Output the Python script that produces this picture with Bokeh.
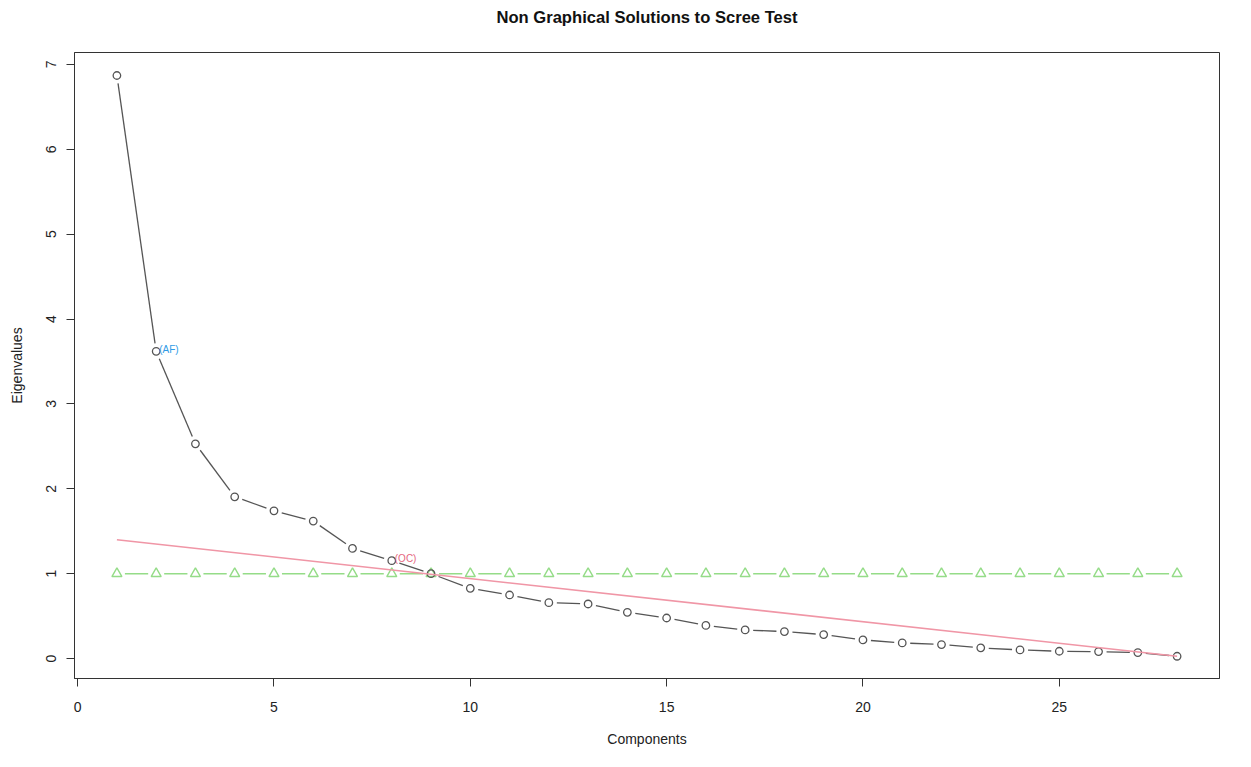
import math
from bokeh.plotting import figure
from bokeh.models import Range1d, FixedTicker, ColumnDataSource, Title
from bokeh.core.properties import value
from bokeh.embed import file_html
from bokeh.resources import INLINE

# ---- data ----
components = list(range(1, 29))
eigenvalues = [6.87, 3.62, 2.53, 1.906, 1.741, 1.62, 1.298, 1.153, 1.0, 0.827,
               0.749, 0.659, 0.643, 0.545, 0.478, 0.39, 0.337, 0.318, 0.282, 0.22,
               0.184, 0.165, 0.126, 0.102, 0.086, 0.082, 0.071, 0.027]
kaiser = [1.0] * 28
oc_line_x = [1, 28]
oc_line_y = [1.40, 0.027]
label_x = [2, 8]
label_y = [3.62, 1.153]
label_text = ["(AF)", "(OC)"]
label_color = ["#2f9be6", "#e5677e"]
x_ticks = [0, 5, 10, 15, 20, 25]
y_ticks = [0, 1, 2, 3, 4, 5, 6, 7]
title_text = "Non Graphical Solutions to Scree Test"

FONT = "Liberation Sans"
W, H = 1243, 759
BL, BR, BT, BB = 74, 24, 51, 81
XR = (-0.08, 29.08)
YR = (-0.235, 7.141)

p = figure(width=W, height=H, output_backend="svg", toolbar_location=None,
           x_range=Range1d(*XR), y_range=Range1d(*YR),
           min_border_left=BL, min_border_right=BR, min_border_top=BT, min_border_bottom=BB,
           title=None)
p.grid.visible = False
p.background_fill_color = "white"
p.border_fill_color = "white"
p.outline_line_color = "#333333"
p.outline_line_width = 1

# spacer between frame and title, then the title itself
p.add_layout(Title(text=" ", text_font_size="8px", align="center"), "above")
p.add_layout(Title(text=title_text, align="center", text_font=FONT,
                   text_font_size="16.6px", text_font_style="bold",
                   text_color="#111111"), "above")

for ax in (p.xaxis[0], p.yaxis[0]):
    ax.axis_line_color = "#333333"
    ax.major_tick_line_color = "#333333"
    ax.major_tick_out = 8
    ax.major_tick_in = 0
    ax.minor_tick_line_color = None
    ax.major_label_text_font = FONT
    ax.major_label_text_font_size = "14px"
    ax.major_label_text_color = "#222222"
    ax.axis_label_text_font = FONT
    ax.axis_label_text_font_size = "14px"
    ax.axis_label_text_font_style = "normal"
    ax.axis_label_text_color = "#222222"

p.xaxis.ticker = FixedTicker(ticks=x_ticks)
p.yaxis.ticker = FixedTicker(ticks=y_ticks)
p.xaxis.axis_label = "Components"
p.yaxis.axis_label = "Eigenvalues"
p.xaxis.major_label_standoff = 15
p.xaxis.axis_label_standoff = 16
p.yaxis.major_label_standoff = 10
p.yaxis.axis_label_standoff = 19
p.yaxis.major_label_orientation = "vertical"

# pixel scale, used only to leave R-style gaps around the markers
fw = W - BL - BR
fh = H - BT - BB
sx = fw / (XR[1] - XR[0])
sy = fh / (YR[1] - YR[0])


def gapped(xs, ys, gap=8.0):
    x0s, y0s, x1s, y1s = [], [], [], []
    for i in range(len(xs) - 1):
        dxp = (xs[i + 1] - xs[i]) * sx
        dyp = (ys[i + 1] - ys[i]) * sy
        L = math.hypot(dxp, dyp)
        if L <= 2 * gap:
            continue
        f = gap / L
        ddx = xs[i + 1] - xs[i]
        ddy = ys[i + 1] - ys[i]
        x0s.append(xs[i] + ddx * f)
        y0s.append(ys[i] + ddy * f)
        x1s.append(xs[i + 1] - ddx * f)
        y1s.append(ys[i + 1] - ddy * f)
    return dict(x0=x0s, y0=y0s, x1=x1s, y1=y1s)


GREEN = "#95dc88"
GRAY = "#555555"
PINK = "#f096a6"

# Kaiser / parallel line (green triangles)
p.segment(x0="x0", y0="y0", x1="x1", y1="y1",
          source=ColumnDataSource(gapped(components, kaiser)),
          line_color=GREEN, line_width=1.5)
p.scatter(components, kaiser, marker="triangle", size=10, fill_color=None,
          line_color=GREEN, line_width=1.4)

# eigenvalues
p.segment(x0="x0", y0="y0", x1="x1", y1="y1",
          source=ColumnDataSource(gapped(components, eigenvalues)),
          line_color=GRAY, line_width=1.3)
p.scatter(components, eigenvalues, marker="circle", size=7.5, fill_color=None,
          line_color=GRAY, line_width=1.3)

# optimal coordinates line
p.line(oc_line_x, oc_line_y, line_color=PINK, line_width=1.6)

# AF / OC labels
p.text(x=label_x, y=label_y, text=label_text, text_color=label_color,
       text_font=value(FONT), text_font_size="10px", text_baseline="middle",
       text_align="left", x_offset=3, y_offset=-2)

open("out.html", "w").write(file_html(p, INLINE))
